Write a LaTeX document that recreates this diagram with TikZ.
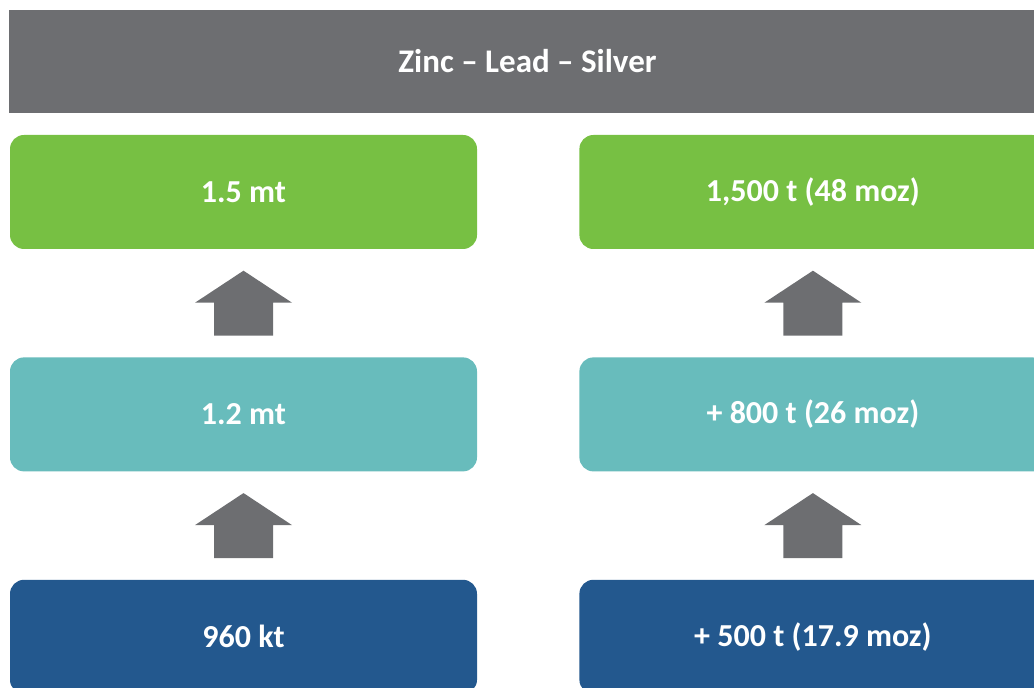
\documentclass[tikz,border=0pt]{standalone}
\usepackage{fontspec}
\setmainfont{Carlito}
\usetikzlibrary{positioning,calc}
\definecolor{zgray}{HTML}{6D6E71}
\definecolor{zgreen}{HTML}{77C043}
\definecolor{zteal}{HTML}{68BCBC}
\definecolor{zblue}{HTML}{23588E}

\begin{document}
\begin{tikzpicture}[x=1pt,y=1pt,
  box/.style={rounded corners=14pt, minimum width=467pt, minimum height=114pt,
    inner sep=0pt, text=white, font=\fontsize{32}{38}\selectfont\bfseries},
  hdr/.style={fill=zgray, minimum width=1037pt, minimum height=103pt,
    inner sep=0pt, text=white, font=\fontsize{33}{38}\selectfont\bfseries}]

  \newcommand\blockup[2]{%
    \fill[zgray] ($(#1.north)!0.5!(#2.south)$) ++(-29.5,-32.5) -- ++(0,33)
      -- ++(-19,0) -- ++(48.5,32) -- ++(48.5,-32) -- ++(-19,0) -- ++(0,-33) -- cycle;}

  \path[use as bounding box, clip] (0,0) rectangle (1034,688);

  % header
  \node[hdr] (title) at (527.5,626.5) {Zinc – Lead – Silver};

  % left column
  \node[box, fill=zgreen] (lt) at (243.5,496) {1.5 mt};
  \node[box, fill=zteal, below=108pt of lt] (lm) {1.2 mt};
  \node[box, fill=zblue, below=108pt of lm] (lb) {960 kt};

  % right column
  \node[box, fill=zgreen, right=102pt of lt] (rt) {1,500 t (48 moz)};
  \node[box, fill=zteal, right=102pt of lm] (rm) {+ 800 t (26 moz)};
  \node[box, fill=zblue, right=102pt of lb] (rb) {+ 500 t (17.9 moz)};

  \blockup{lm}{lt}
  \blockup{lb}{lm}
  \blockup{rm}{rt}
  \blockup{rb}{rm}

\end{tikzpicture}
\end{document}
